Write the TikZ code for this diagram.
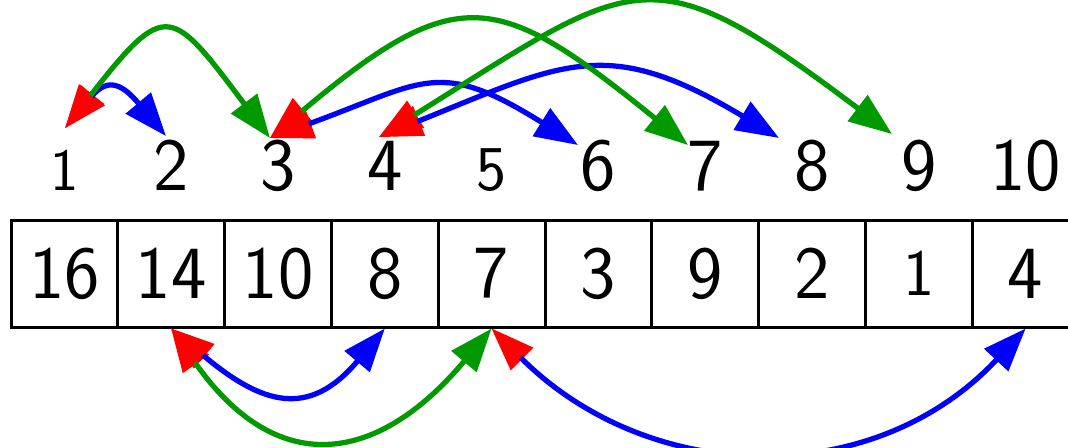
\documentclass[tikz,border=0pt]{standalone}
\usetikzlibrary{arrows.meta}
\definecolor{kidgreen}{RGB}{0,153,0}
\tikzset{
  cell/.style={draw, line width=0.8pt, minimum size=1cm, inner sep=0pt, font=\sffamily\fontsize{20}{24}\selectfont},
  idx/.style={anchor=base, inner sep=0pt, font=\sffamily\fontsize{20}{24}\selectfont},
  arr/.style={line width=1.4pt, shorten <=11pt, -{Triangle[length=11.5pt,width=8.5pt]}},
  toparent/.style={arr, red, line width=0.3pt},
  toleft/.style={arr, blue},
  toright/.style={arr, kidgreen}
}
\begin{document}
\begin{tikzpicture}
            \useasboundingbox (-0.103,-1.124) rectangle (9.897,3.062);

            % the array
            \node[cell] (c1) at (0.5,0.5) {16};
            \node[cell] (c2) at (1.5,0.5) {14};
            \node[cell] (c3) at (2.5,0.5) {10};
            \node[cell] (c4) at (3.5,0.5) {8};
            \node[cell] (c5) at (4.5,0.5) {7};
            \node[cell] (c6) at (5.5,0.5) {3};
            \node[cell] (c7) at (6.5,0.5) {9};
            \node[cell] (c8) at (7.5,0.5) {2};
            \node[cell, font=\sffamily\fontsize{17.6}{21}\selectfont] (c9) at (8.5,0.5) {1};
            \node[cell] (c10) at (9.5,0.5) {4};

            % the indices
            \node[idx, font=\sffamily\fontsize{16}{19}\selectfont] (i1) at (0.5,1.283) {1};
            \node[idx] (i2) at (1.5,1.283) {2};
            \node[idx] (i3) at (2.5,1.283) {3};
            \node[idx] (i4) at (3.5,1.283) {4};
            \node[idx, font=\sffamily\fontsize{17}{20}\selectfont] (i5) at (4.5,1.283) {5};
            \node[idx] (i6) at (5.5,1.283) {6};
            \node[idx] (i7) at (6.5,1.283) {7};
            \node[idx] (i8) at (7.5,1.283) {8};
            \node[idx] (i9) at (8.5,1.283) {9};
            \node[idx] (i10) at (9.5,1.283) {10};

            \coordinate (t1) at (0.506,1.863);
            \coordinate (t2) at (1.451,1.788);
            \coordinate (t3) at (2.425,1.770);
            \coordinate (t4) at (3.446,1.779);
            \coordinate (t6) at (5.309,1.704);
            \coordinate (t7) at (6.339,1.704);
            \coordinate (t8) at (7.191,1.770);
            \coordinate (t9) at (8.249,1.807);

            % child to parent
            \draw[toparent] (t2) to[out=130, in=50, looseness=1.7] (t1);
            \draw[toparent] (t3) to[out=127, in=52, looseness=2.05] (t1);
            \draw[toparent] (t6) to[out=148, in=20, looseness=1.37] (t3);
            \draw[toparent] (t7) to[out=141, in=40, looseness=1.5] (t3);
            \draw[toparent] (t8) to[out=149, in=22, looseness=1.28] (t4);
            \draw[toparent] (t9) to[out=143, in=32, looseness=1.52] (t4);
            \draw[toparent] (c4.south) to[out=-130, in=-40, looseness=1.42] (c2.south);
            \draw[toparent] (c5.south) to[out=-130, in=-55, looseness=1.45] (c2.south);
            \draw[toparent] (c10.south) to[out=-133, in=-45, looseness=1.07] (c5.south);

            % parent to left child
            \draw[toleft] (t1) to[out=50, in=130, looseness=1.7] (t2);
            \draw[toleft] (t3) to[out=20, in=148, looseness=1.37] (t6);
            \draw[toleft] (t4) to[out=22, in=149, looseness=1.28] (t8);
            \draw[toleft] (c2.south) to[out=-40, in=-130, looseness=1.42] (c4.south);
            \draw[toleft] (c5.south) to[out=-45, in=-133, looseness=1.07] (c10.south);

            % parent to right child
            \draw[toright] (t1) to[out=52, in=127, looseness=2.05] (t3);
            \draw[toright] (t3) to[out=40, in=141, looseness=1.5] (t7);
            \draw[toright] (t4) to[out=32, in=143, looseness=1.52] (t9);
            \draw[toright] (c2.south) to[out=-55, in=-130, looseness=1.45] (c5.south);
        \end{tikzpicture}
\end{document}
